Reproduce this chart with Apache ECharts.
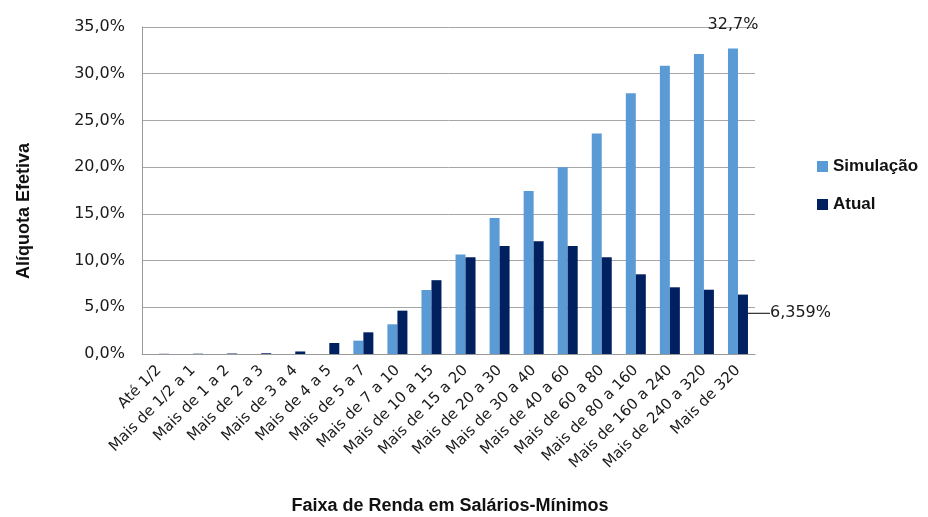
<!DOCTYPE html>
<html>
<head>
<meta charset="utf-8">
<script src="https://cdn.jsdelivr.net/npm/echarts@6/dist/echarts.min.js"></script>
<style>html,body{margin:0;padding:0;background:#fff;}#c{width:928px;height:517px;}</style>
</head>
<body>
<div id="c"></div>
<script>
const categories = ['Até 1/2','Mais de 1/2 a 1','Mais de 1 a 2','Mais de 2 a 3','Mais de 3 a 4','Mais de 4 a 5','Mais de 5 a 7','Mais de 7 a 10','Mais de 10 a 15','Mais de 15 a 20','Mais de 20 a 30','Mais de 30 a 40','Mais de 40 a 60','Mais de 60 a 80','Mais de 80 a 160','Mais de 160 a 240','Mais de 240 a 320','Mais de 320'];
const simulacao = [0, 0, 0, 0, 0, 0, 1.43, 3.18, 6.85, 10.65, 14.56, 17.45, 20.0, 23.6, 27.9, 30.85, 32.1, 32.7];
const atual = [0.02, 0.03, 0.05, 0.08, 0.27, 1.18, 2.32, 4.64, 7.9, 10.35, 11.56, 12.06, 11.56, 10.35, 8.53, 7.14, 6.88, 6.359];
const yTicks = [0, 5, 10, 15, 20, 25, 30, 35];
const seriesNames = ['Simulação', 'Atual'];

const font = 'Liberation Sans, Arial, Helvetica, sans-serif';
const font2 = 'DejaVu Sans, Verdana, sans-serif';
const fmtPct = (v, d) => v.toFixed(d).replace('.', ',') + '%';

const simData = simulacao.map((v, i) => i === simulacao.length - 1 ? {
  value: v,
  label: { show: true, position: 'top', offset: [0, -11], formatter: p => fmtPct(p.value, 1), fontSize: 16, color: '#1a1a1a', fontFamily: font2 }
} : v);
const atualData = atual.map((v, i) => i === atual.length - 1 ? {
  value: v,
  label: { show: true, position: 'right', padding: [0, 0, 0, 9], formatter: p => fmtPct(p.value, 3), fontSize: 16, color: '#1a1a1a', fontFamily: font2 }
} : v);

const chart = echarts.init(document.getElementById('c'), null, { renderer: 'canvas' });
chart.setOption({
  animation: false,
  textStyle: { fontFamily: font },
  grid: { left: 142, right: 173, top: 27, bottom: 163, containLabel: false },
  legend: {
    orient: 'vertical', left: 817, top: 158, padding: 0, itemWidth: 11, itemHeight: 11, itemGap: 21,
    icon: 'rect',
    data: seriesNames,
    textStyle: { fontSize: 17, fontWeight: 'bold', color: '#111', fontFamily: font, padding: [0, 0, 0, 0] }
  },
  xAxis: {
    type: 'category', data: categories,
    axisLine: { lineStyle: { color: '#999', width: 1 } },
    axisTick: { show: false },
    axisLabel: { rotate: 45, interval: 0, fontSize: 15, color: '#1a1a1a', margin: 14, fontFamily: font2 }
  },
  yAxis: {
    type: 'value', min: 0, max: 35, interval: 5,
    axisLine: { show: true, lineStyle: { color: '#999', width: 1 } },
    axisTick: { show: false },
    splitLine: { lineStyle: { color: '#a6a6a6', width: 1 } },
    axisLabel: { fontSize: 16, color: '#1a1a1a', margin: 17, fontFamily: font2,
      formatter: v => yTicks.includes(v) ? fmtPct(v, 1) : '' }
  },
  graphic: [
    { type: 'text', x: 24, y: 211, rotation: Math.PI / 2,
      style: { text: 'Alíquota Efetiva', font: 'bold 18px ' + font, fill: '#111', textAlign: 'center', textVerticalAlign: 'middle' } },
    { type: 'text', x: 450, y: 506,
      style: { text: 'Faixa de Renda em Salários-Mínimos', font: 'bold 18px ' + font, fill: '#111', textAlign: 'center', textVerticalAlign: 'middle' } }
  ],
  series: [
    { name: seriesNames[0], type: 'bar', data: simData, barWidth: 10, barGap: '0%',
      itemStyle: { color: '#5b9bd5' } },
    { name: seriesNames[1], type: 'bar', data: atualData, barWidth: 10, barGap: '0%',
      itemStyle: { color: '#002060' },
      labelLine: { show: true, length2: 5, lineStyle: { color: '#000', width: 1 } },
      labelLayout: { dx: 8, dy: -11 } }
  ]
});
</script>
</body>
</html>
